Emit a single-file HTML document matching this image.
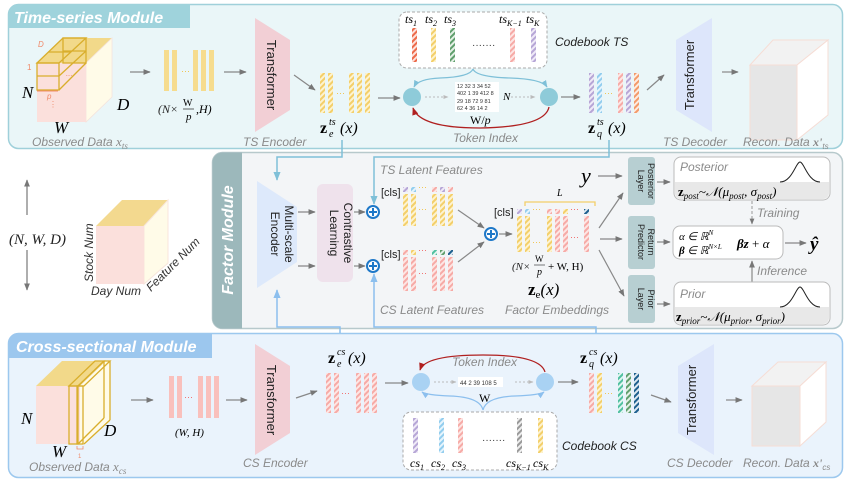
<!DOCTYPE html>
<html><head><meta charset="utf-8"><style>
html,body{margin:0;padding:0;background:#fff;}
svg{display:block;font-family:"Liberation Sans",sans-serif;}
.it{font-style:italic;fill:#8a8a8a;font-size:12px;}
.m{font-family:"Liberation Serif",serif;font-style:italic;}
</style></head><body>
<svg width="847" height="482" viewBox="0 0 847 482" xmlns="http://www.w3.org/2000/svg">
<defs>
<marker id="ag" viewBox="0 0 10 10" refX="9" refY="5" markerWidth="6" markerHeight="6" orient="auto"><path d="M0,1 L10,5 L0,9 z" fill="#777"/></marker>
<marker id="ab" viewBox="0 0 10 10" refX="9" refY="5" markerWidth="6" markerHeight="6" orient="auto"><path d="M0,1 L10,5 L0,9 z" fill="#7fc0d8"/></marker>
<marker id="ab2" viewBox="0 0 10 10" refX="9" refY="5" markerWidth="6" markerHeight="6" orient="auto"><path d="M0,1 L10,5 L0,9 z" fill="#8cbfee"/></marker>
<marker id="ar" viewBox="0 0 10 10" refX="9" refY="5" markerWidth="6" markerHeight="6" orient="auto"><path d="M0,1 L10,5 L0,9 z" fill="#b02020"/></marker>
<marker id="al" viewBox="0 0 10 10" refX="9" refY="5" markerWidth="5" markerHeight="5" orient="auto"><path d="M0,1 L10,5 L0,9 z" fill="#bbb"/></marker>
<pattern id="hY" width="4" height="4" patternUnits="userSpaceOnUse" patternTransform="rotate(45)"><rect width="4" height="4" fill="#fdf3d0"/><rect width="2" height="4" fill="#f3cf6a"/></pattern>
<pattern id="hP" width="4" height="4" patternUnits="userSpaceOnUse" patternTransform="rotate(45)"><rect width="4" height="4" fill="#fde6e4"/><rect width="2" height="4" fill="#f6aaa6"/></pattern>
<pattern id="hV" width="4" height="4" patternUnits="userSpaceOnUse" patternTransform="rotate(45)"><rect width="4" height="4" fill="#efeaf7"/><rect width="2" height="4" fill="#b6a6d6"/></pattern>
<pattern id="hB" width="4" height="4" patternUnits="userSpaceOnUse" patternTransform="rotate(45)"><rect width="4" height="4" fill="#e6f4fc"/><rect width="2" height="4" fill="#92cdee"/></pattern>
<pattern id="hG" width="4" height="4" patternUnits="userSpaceOnUse" patternTransform="rotate(45)"><rect width="4" height="4" fill="#e4f0e6"/><rect width="2" height="4" fill="#5f9e6c"/></pattern>
<pattern id="hT" width="4" height="4" patternUnits="userSpaceOnUse" patternTransform="rotate(45)"><rect width="4" height="4" fill="#e0f5ef"/><rect width="2" height="4" fill="#4fbfa0"/></pattern>
<pattern id="hD" width="4" height="4" patternUnits="userSpaceOnUse" patternTransform="rotate(45)"><rect width="4" height="4" fill="#dde8f0"/><rect width="2" height="4" fill="#1d5f8e"/></pattern>
<pattern id="hO" width="4" height="4" patternUnits="userSpaceOnUse" patternTransform="rotate(45)"><rect width="4" height="4" fill="#fdece2"/><rect width="2" height="4" fill="#f39a6a"/></pattern>
<pattern id="hR" width="4" height="4" patternUnits="userSpaceOnUse" patternTransform="rotate(45)"><rect width="4" height="4" fill="#fde2dc"/><rect width="2" height="4" fill="#ec6a4a"/></pattern>
<pattern id="hA" width="4" height="4" patternUnits="userSpaceOnUse" patternTransform="rotate(45)"><rect width="4" height="4" fill="#eee"/><rect width="2" height="4" fill="#999"/></pattern>
</defs>

<!-- ===== TS module ===== -->
<rect x="8.5" y="4.5" width="834" height="144" rx="10" fill="#eaf6f8" stroke="#9fd0da" stroke-width="1.5"/>
<path d="M8.5,14.5 a10,10 0 0 1 10,-10 H190 V28 H8.5 z" fill="#9fd3dc"/>
<text x="14" y="23" font-size="16" font-weight="bold" font-style="italic" fill="#fff">Time-series Module</text>

<polygon points="37,63 63,38 112,38 86,63" fill="#f2d98a"/>
<polygon points="86,63 112,38 112,97 86,122" fill="#fffbe8" stroke="#f5e3dc" stroke-width="0.8"/>
<rect x="37" y="63" width="49" height="59" fill="#fbe0dc"/>
<g fill="none" stroke="#d9ae2c" stroke-width="1.3">
<rect x="37" y="63" width="22" height="27"/><line x1="37" y1="76" x2="59" y2="76"/>
<polygon points="37,63 63,38 86,38 59,63"/><line x1="48" y1="52" x2="71" y2="52"/>
<rect x="63" y="38" width="23" height="25"/><line x1="63" y1="51" x2="86" y2="51"/>
<line x1="59" y1="90" x2="86" y2="63"/><line x1="59" y1="76" x2="86" y2="51"/>
</g>
<g fill="#f08a6a" font-size="8" font-style="italic"><text x="38" y="47">D</text><text x="27" y="70" font-style="normal">1</text><text x="47" y="99">p</text><text x="66" y="76">...</text></g>
<line x1="37" y1="91" x2="58" y2="91" stroke="#f08a6a"/>
<text x="49" y="107" fill="#f08a6a" font-size="8">⋮</text>
<text x="22" y="98" class="m" font-size="17">N</text>
<text x="117" y="110" class="m" font-size="17">D</text>
<text x="54" y="133" class="m" font-size="17">W</text>
<text x="32" y="146" class="it" font-size="12">Observed Data <tspan class="m" font-size="13">x</tspan><tspan class="m" font-size="9" dy="3">ts</tspan></text>

<line x1="130" y1="72" x2="150" y2="72" stroke="#888" stroke-width="1.2" marker-end="url(#ag)"/>
<g fill="#f6dc8e"><rect x="164" y="50" width="5" height="41"/><rect x="172" y="50" width="5" height="41"/><rect x="193" y="50" width="5" height="41"/><rect x="201" y="50" width="5" height="41"/><rect x="209" y="50" width="5" height="41"/></g>
<text x="181" y="74" fill="#f0c040" font-size="9">···</text>
<text x="158" y="113" class="m" font-size="12" fill="#222">(N×</text><text x="183" y="106" font-size="10" font-family="Liberation Serif">W</text><line x1="183" y1="109" x2="194" y2="109" stroke="#222" stroke-width="0.7"/><text x="186" y="120" class="m" font-size="11">p</text><text x="196" y="113" class="m" font-size="12">,H)</text>
<line x1="224" y1="72" x2="246" y2="72" stroke="#888" stroke-width="1.2" marker-end="url(#ag)"/>

<polygon points="255,18 290,40 290,110 255,132" fill="#f2cfd5"/>
<text transform="translate(267,75) rotate(90)" text-anchor="middle" font-size="13" fill="#222">Transformer</text>
<text x="243" y="146" class="it">TS Encoder</text>
<line x1="294" y1="75" x2="315" y2="90" stroke="#888" stroke-width="1.2" marker-end="url(#ag)"/>

<g><rect x="320" y="73" width="5" height="40" fill="url(#hY)"/><rect x="328" y="73" width="5" height="40" fill="url(#hY)"/><rect x="349" y="73" width="5" height="40" fill="url(#hY)"/><rect x="357" y="73" width="5" height="40" fill="url(#hY)"/><rect x="365" y="73" width="5" height="40" fill="url(#hY)"/></g>
<text x="336" y="96" fill="#f0c040" font-size="9">···</text>
<text x="320" y="133" font-family="Liberation Serif" font-size="16" font-weight="bold">z</text>
<text x="329" y="125" font-family="Liberation Serif" font-size="10" font-style="italic">ts</text>
<text x="329" y="137" font-family="Liberation Serif" font-size="10" font-style="italic">e</text>
<text x="340" y="133" font-family="Liberation Serif" font-size="16" font-style="italic">(x)</text>
<line x1="378" y1="98" x2="400" y2="98" stroke="#888" stroke-width="1.2" marker-end="url(#ag)"/>

<rect x="399" y="12" width="148" height="56" rx="8" fill="#fff" stroke="#aaa" stroke-dasharray="3,2"/>
<g font-family="Liberation Serif" font-style="italic" font-size="12"><text x="405" y="23">ts<tspan font-size="8" dy="3">1</tspan></text><text x="425" y="23">ts<tspan font-size="8" dy="3">2</tspan></text><text x="444" y="23">ts<tspan font-size="8" dy="3">3</tspan></text><text x="499" y="23">ts<tspan font-size="8" dy="3">K−1</tspan></text><text x="526" y="23">ts<tspan font-size="8" dy="3">K</tspan></text></g>
<rect x="412" y="28" width="5" height="34" fill="url(#hR)"/><rect x="431" y="28" width="5" height="34" fill="url(#hY)"/><rect x="450" y="28" width="5" height="34" fill="url(#hG)"/><rect x="510" y="28" width="5" height="34" fill="url(#hP)"/><rect x="531" y="28" width="5" height="34" fill="url(#hV)"/>
<text x="472" y="48" font-size="10" fill="#333">·······</text>
<text x="555" y="46" font-size="12" font-style="italic" fill="#222">Codebook TS</text>
<path d="M473,69 Q470,77 440,78 Q418,79 414,87" fill="none" stroke="#7fc0d8" stroke-width="1.2" marker-end="url(#ab)"/>
<path d="M473,69 Q476,77 510,78 Q542,79 547,87" fill="none" stroke="#7fc0d8" stroke-width="1.2" marker-end="url(#ab)"/>
<circle cx="412" cy="97" r="9" fill="#8ecbd9"/><circle cx="549" cy="97" r="9" fill="#8ecbd9"/>
<line x1="425" y1="97" x2="448" y2="97" stroke="#bbb" stroke-dasharray="2,2" marker-end="url(#al)"/>
<line x1="511" y1="97" x2="535" y2="97" stroke="#bbb" stroke-dasharray="2,2" marker-end="url(#al)"/>
<rect x="455" y="82" width="44" height="30" fill="#fff"/>
<g font-size="5.5" fill="#333"><text x="457" y="88">12 32 3 34 52</text><text x="457" y="95">402 1 39 412 8</text><text x="457" y="103">29 18 72 9 81</text><text x="457" y="110">62 4 36 14 2</text></g>
<text x="503" y="100" class="m" font-size="11">N</text>
<path d="M549,107 Q545,127 480,128 Q420,128 413,108" fill="none" stroke="#b02020" stroke-width="1.3" marker-end="url(#ar)"/>
<text x="470" y="124" font-family="Liberation Serif" font-size="12">W/<tspan font-style="italic">p</tspan></text>
<text x="453" y="142" class="it">Token Index</text>
<line x1="561" y1="97" x2="580" y2="97" stroke="#888" stroke-width="1.2" marker-end="url(#ag)"/>

<g><rect x="589" y="73" width="5" height="40" fill="url(#hV)"/><rect x="597" y="73" width="5" height="40" fill="url(#hB)"/><rect x="618" y="73" width="5" height="40" fill="url(#hP)"/><rect x="626" y="73" width="5" height="40" fill="url(#hV)"/><rect x="634" y="73" width="5" height="40" fill="url(#hO)"/></g>
<text x="604" y="96" fill="#f0c040" font-size="9">···</text>
<text x="588" y="133" font-family="Liberation Serif" font-size="16" font-weight="bold">z</text>
<text x="597" y="125" font-family="Liberation Serif" font-size="10" font-style="italic">ts</text>
<text x="597" y="137" font-family="Liberation Serif" font-size="10" font-style="italic">q</text>
<text x="608" y="133" font-family="Liberation Serif" font-size="16" font-style="italic">(x)</text>
<line x1="647" y1="90" x2="664" y2="75" stroke="#888" stroke-width="1.2" marker-end="url(#ag)"/>
<polygon points="676,40 712,18 712,132 676,110" fill="#dde6fb"/>
<text transform="translate(694,75) rotate(-90)" text-anchor="middle" font-size="13" fill="#222">Transformer</text>
<text x="663" y="146" class="it">TS Decoder</text>
<line x1="722" y1="72" x2="738" y2="72" stroke="#888" stroke-width="1.2" marker-end="url(#ag)"/>
<polygon points="750,65 773,40 828,40 797,65" fill="#f2f2f2" stroke="#f6ddd5"/>
<polygon points="797,65 828,40 828,115 797,140" fill="#fff" stroke="#f6ddd5"/>
<rect x="750" y="65" width="47" height="75" fill="#e6e6e6" stroke="#f6ddd5"/>
<text x="743" y="146" class="it">Recon. Data <tspan class="m" font-weight="bold" font-size="12">x'</tspan><tspan font-size="8" dy="3">ts</tspan></text>

<!-- ===== Factor module ===== -->
<rect x="212.5" y="152.5" width="630" height="176" rx="10" fill="#f3f5f7" stroke="#b7c9cc" stroke-width="1.5"/>
<path d="M212.5,162.5 a10,10 0 0 1 10,-10 H242 V328.5 H222.5 a10,10 0 0 1 -10,-10 z" fill="#9cb8bb"/>
<text transform="translate(233,240) rotate(-90)" text-anchor="middle" font-size="16" font-weight="bold" font-style="italic" fill="#fff">Factor Module</text>

<line x1="27" y1="215" x2="27" y2="180" stroke="#777" stroke-width="1.2" marker-end="url(#ag)"/>
<line x1="27" y1="250" x2="27" y2="290" stroke="#777" stroke-width="1.2" marker-end="url(#ag)"/>
<text x="9" y="244" class="m" font-size="15" font-style="normal" fill="#222">(<tspan font-style="italic">N</tspan>, <tspan font-style="italic">W</tspan>, <tspan font-style="italic">D</tspan>)</text>
<polygon points="96,226 122,200 168,200 144,226" fill="#f3d98f"/>
<polygon points="144,226 168,200 168,263 144,284" fill="#fffbe8" stroke="#f8e6dc"/>
<rect x="96" y="226" width="48" height="58" fill="#fbe0dc"/>
<text transform="translate(93,282) rotate(-90)" font-size="12" font-style="italic" fill="#333">Stock Num</text>
<text x="91" y="295" font-size="12" font-style="italic" fill="#333">Day Num</text>
<text transform="translate(151,292) rotate(-45)" font-size="12" font-style="italic" fill="#333">Feature Num</text>

<polygon points="257,181 297,207 297,262 257,288" fill="#dde9fb"/>
<text transform="translate(285,234) rotate(90)" text-anchor="middle" font-size="12" fill="#222">Multi-scale</text>
<text transform="translate(271,234) rotate(90)" text-anchor="middle" font-size="12" fill="#222">Encoder</text>
<line x1="298" y1="212" x2="315" y2="212" stroke="#888" stroke-width="1.2" marker-end="url(#ag)"/>
<line x1="298" y1="266" x2="315" y2="266" stroke="#888" stroke-width="1.2" marker-end="url(#ag)"/>
<rect x="317" y="184" width="36" height="98" rx="6" fill="#efe2ec"/>
<text transform="translate(344,233) rotate(90)" text-anchor="middle" font-size="12" fill="#222">Contrastive</text>
<text transform="translate(330,233) rotate(90)" text-anchor="middle" font-size="12" fill="#222">Learning</text>
<line x1="354" y1="212" x2="365" y2="212" stroke="#888" stroke-width="1.2" marker-end="url(#ag)"/>
<line x1="354" y1="266" x2="365" y2="266" stroke="#888" stroke-width="1.2" marker-end="url(#ag)"/>
<g fill="#fff" stroke="#1e78c8" stroke-width="2"><circle cx="373" cy="212" r="6"/><circle cx="373" cy="266" r="6"/><circle cx="491" cy="234" r="6"/></g>
<g stroke="#1e78c8" stroke-width="2"><path d="M369,212h8M373,208v8M369,266h8M373,262v8M487,234h8M491,230v8"/></g>

<text x="380" y="174" class="it">TS Latent Features</text>
<text x="381" y="196" font-size="11" fill="#222">[cls]</text>
<rect x="403" y="187" width="5" height="5" fill="url(#hV)"/><rect x="411" y="187" width="5" height="5" fill="url(#hB)"/><rect x="432" y="187" width="5" height="5" fill="url(#hP)"/><rect x="440" y="187" width="5" height="5" fill="url(#hV)"/><rect x="448" y="187" width="5" height="5" fill="url(#hP)"/>
<rect x="403" y="194" width="5" height="32" fill="url(#hY)"/><rect x="411" y="194" width="5" height="32" fill="url(#hY)"/><rect x="432" y="194" width="5" height="32" fill="url(#hY)"/><rect x="440" y="194" width="5" height="32" fill="url(#hY)"/><rect x="448" y="194" width="5" height="32" fill="url(#hY)"/>
<text x="418" y="190" fill="#f0c040" font-size="9">···</text><text x="418" y="212" fill="#f0c040" font-size="9">···</text>

<text x="381" y="258" font-size="11" fill="#222">[cls]</text>
<rect x="403" y="250" width="5" height="5" fill="url(#hP)"/><rect x="411" y="250" width="5" height="5" fill="url(#hY)"/><rect x="432" y="250" width="5" height="5" fill="url(#hT)"/><rect x="440" y="250" width="5" height="5" fill="url(#hG)"/><rect x="448" y="250" width="5" height="5" fill="url(#hD)"/>
<rect x="403" y="257" width="5" height="34" fill="url(#hP)"/><rect x="411" y="257" width="5" height="34" fill="url(#hP)"/><rect x="432" y="257" width="5" height="34" fill="url(#hP)"/><rect x="440" y="257" width="5" height="34" fill="url(#hP)"/><rect x="448" y="257" width="5" height="34" fill="url(#hP)"/>
<text x="418" y="253" fill="#f06060" font-size="9">···</text><text x="418" y="276" fill="#f06060" font-size="9">···</text>
<text x="380" y="314" class="it">CS Latent Features</text>

<line x1="458" y1="210" x2="484" y2="228" stroke="#888" stroke-width="1.2" marker-end="url(#ag)"/>
<line x1="458" y1="262" x2="484" y2="242" stroke="#888" stroke-width="1.2" marker-end="url(#ag)"/>
<line x1="499" y1="234" x2="512" y2="234" stroke="#888" stroke-width="1.2" marker-end="url(#ag)"/>

<path d="M525,206 V202 H595 V206" fill="none" stroke="#f3cf6a" stroke-width="1.3"/>
<text x="557" y="196" class="m" font-size="10">L</text>
<text x="494" y="216" font-size="11" fill="#222">[cls]</text>
<g>
<rect x="517" y="209" width="5" height="5" fill="url(#hV)"/><rect x="525" y="209" width="5" height="5" fill="url(#hB)"/><rect x="547" y="209" width="5" height="5" fill="url(#hP)"/><rect x="555" y="209" width="5" height="5" fill="url(#hP)"/><rect x="563" y="209" width="5" height="5" fill="url(#hY)"/><rect x="584" y="209" width="5" height="5" fill="url(#hD)"/>
<rect x="517" y="216" width="5" height="36" fill="url(#hY)"/><rect x="525" y="216" width="5" height="36" fill="url(#hY)"/><rect x="547" y="216" width="5" height="36" fill="url(#hY)"/><rect x="555" y="216" width="5" height="36" fill="url(#hP)"/><rect x="563" y="216" width="5" height="36" fill="url(#hP)"/><rect x="584" y="216" width="5" height="36" fill="url(#hP)"/>
</g>
<text x="532" y="212" fill="#f0c040" font-size="9">···</text><text x="532" y="245" fill="#f0c040" font-size="9">···</text>
<text x="570" y="212" fill="#f06060" font-size="9">···</text><text x="570" y="240" fill="#f06060" font-size="9">···</text>
<text x="512" y="270" class="m" font-size="11" fill="#222">(N×</text><text x="535" y="262" font-size="9" font-family="Liberation Serif">W</text><line x1="534" y1="265" x2="545" y2="265" stroke="#222" stroke-width="0.6"/><text x="537" y="275" class="m" font-size="10">p</text><text x="548" y="270" font-family="Liberation Serif" font-size="11">+ W, H)</text>
<text x="528" y="295" font-family="Liberation Serif" font-size="17"><tspan font-weight="bold">z</tspan><tspan font-size="11" dy="3">e</tspan><tspan dy="-3" font-style="italic">(x)</tspan></text>
<text x="505" y="314" class="it">Factor Embeddings</text>

<text x="581" y="183" class="m" font-size="22">y</text>
<line x1="598" y1="176" x2="622" y2="176" stroke="#888" stroke-width="1.2" marker-end="url(#ag)"/>
<line x1="599" y1="228" x2="623" y2="193" stroke="#888" stroke-width="1.2" marker-end="url(#ag)"/>
<line x1="600" y1="239" x2="622" y2="239" stroke="#888" stroke-width="1.2" marker-end="url(#ag)"/>
<line x1="599" y1="250" x2="624" y2="296" stroke="#888" stroke-width="1.2" marker-end="url(#ag)"/>

<rect x="628" y="157" width="27" height="48" rx="3" fill="#b7cfd2"/>
<text transform="translate(648,181) rotate(90)" text-anchor="middle" font-size="9" fill="#222">Posterior</text>
<text transform="translate(638,181) rotate(90)" text-anchor="middle" font-size="9" fill="#222">Layer</text>
<rect x="628" y="216" width="27" height="53" rx="3" fill="#b7cfd2"/>
<text transform="translate(648,242) rotate(90)" text-anchor="middle" font-size="9" fill="#222">Return</text>
<text transform="translate(638,242) rotate(90)" text-anchor="middle" font-size="9" fill="#222">Predictor</text>
<rect x="628" y="275" width="27" height="48" rx="3" fill="#b7cfd2"/>
<text transform="translate(648,299) rotate(90)" text-anchor="middle" font-size="9" fill="#222">Prior</text>
<text transform="translate(638,299) rotate(90)" text-anchor="middle" font-size="9" fill="#222">Layer</text>
<line x1="657" y1="182" x2="670" y2="182" stroke="#888" stroke-width="1.2" marker-end="url(#ag)"/>
<line x1="657" y1="242" x2="670" y2="242" stroke="#888" stroke-width="1.2" marker-end="url(#ag)"/>
<line x1="657" y1="304" x2="670" y2="304" stroke="#888" stroke-width="1.2" marker-end="url(#ag)"/>

<rect x="674" y="157" width="156" height="43" rx="7" fill="#fff" stroke="#bbb"/>
<path d="M675,182 H829 V193 a6,6 0 0 1 -6,6 H681 a6,6 0 0 1 -6,-6 z" fill="#e8e8e8"/>
<text x="680" y="171" class="it" font-size="12">Posterior</text>
<path d="M780,182 C792,182 796,162 800,162 C804,162 808,182 820,182" fill="none" stroke="#222"/>
<text x="678" y="196" font-family="Liberation Serif" font-size="13" font-style="italic"><tspan font-weight="bold" font-style="normal">z</tspan><tspan font-size="9" dy="3">post</tspan><tspan dy="-3">~𝒩(μ</tspan><tspan font-size="9" dy="3">post</tspan><tspan dy="-3">, σ</tspan><tspan font-size="9" dy="3">post</tspan><tspan dy="-3">)</tspan></text>
<line x1="752" y1="201" x2="752" y2="224" stroke="#999" stroke-dasharray="3,2" marker-end="url(#ag)"/>
<text x="757" y="217" class="it" font-size="11">Training</text>

<rect x="673" y="226" width="110" height="33" rx="7" fill="#fff" stroke="#bbb"/>
<text x="679" y="240" font-family="Liberation Serif" font-size="11" font-style="italic">α ∈ ℝ<tspan font-size="7" dy="-5">N</tspan></text>
<text x="679" y="254" font-family="Liberation Serif" font-size="11" font-style="italic" font-weight="bold">β<tspan font-weight="normal"> ∈ ℝ</tspan><tspan font-size="7" dy="-5" font-weight="normal">N×L</tspan></text>
<text x="737" y="248" font-family="Liberation Serif" font-size="13" font-weight="bold" font-style="italic">βz<tspan font-weight="normal" font-style="normal"> + </tspan><tspan font-weight="normal">α</tspan></text>
<line x1="785" y1="243" x2="806" y2="243" stroke="#888" stroke-width="1.2" marker-end="url(#ag)"/>
<text x="810" y="250" class="m" font-size="19" font-weight="bold">ŷ</text>
<line x1="752" y1="282" x2="752" y2="261" stroke="#888" stroke-width="1.2" marker-end="url(#ag)"/>
<text x="757" y="275" class="it" font-size="11">Inference</text>

<rect x="674" y="282" width="156" height="43" rx="7" fill="#fff" stroke="#bbb"/>
<path d="M675,307 H829 V318 a6,6 0 0 1 -6,6 H681 a6,6 0 0 1 -6,-6 z" fill="#e8e8e8"/>
<text x="680" y="298" class="it" font-size="12">Prior</text>
<path d="M780,307 C792,307 796,287 800,287 C804,287 808,307 820,307" fill="none" stroke="#222"/>
<text x="676" y="321" font-family="Liberation Serif" font-size="13" font-style="italic"><tspan font-weight="bold" font-style="normal">z</tspan><tspan font-size="9" dy="3">prior</tspan><tspan dy="-3">~𝒩(μ</tspan><tspan font-size="9" dy="3">prior</tspan><tspan dy="-3">, σ</tspan><tspan font-size="9" dy="3">prior</tspan><tspan dy="-3">)</tspan></text>

<!-- ===== CS module ===== -->
<rect x="8.5" y="333.5" width="834" height="144" rx="10" fill="#eaf3fc" stroke="#9cc8ee" stroke-width="1.5"/>
<path d="M8.5,343.5 a10,10 0 0 1 10,-10 H212 V358 H8.5 z" fill="#9cc7ee"/>
<text x="16" y="352" font-size="16" font-weight="bold" font-style="italic" fill="#fff">Cross-sectional Module</text>

<g fill="none" stroke="#7fc0d8" stroke-width="1.5">
<path d="M342,140 V157 H277 V180" marker-end="url(#ab)"/>
<path d="M609,140 V157 H374 V204" marker-end="url(#ab)"/>
</g>
<g fill="none" stroke="#8cbfee" stroke-width="1.5">
<path d="M340,333 V327 H277 V290" marker-end="url(#ab2)"/>
<path d="M596,333 V327 H374 V274" marker-end="url(#ab2)"/>
</g>

<polygon points="36,386 62,361 106,361 80,386" fill="#f2d98a"/>
<rect x="36" y="386" width="44" height="58" fill="#fbe0dc"/>
<polygon points="80,386 106,361 110,361 110,420 84,444 80,444" fill="#fffbe8"/>
<g fill="none" stroke="#d9ae2c" stroke-width="1.3">
<rect x="69" y="386" width="9" height="58"/><rect x="77" y="386" width="6" height="58"/>
<polygon points="69,386 95,361 104,361 78,386"/><polygon points="78,386 104,361 110,361 84,386"/>
<line x1="104" y1="361" x2="104" y2="418"/><line x1="110" y1="361" x2="110" y2="420"/>
<line x1="84" y1="444" x2="110" y2="420"/><line x1="78" y1="444" x2="104" y2="418"/>
</g>
<path d="M77,446v3h6v-3" fill="none" stroke="#f08a6a" stroke-width="0.8"/>
<text x="78" y="458" fill="#f08a6a" font-size="6">1</text>
<text x="21" y="424" class="m" font-size="17">N</text>
<text x="104" y="436" class="m" font-size="17">D</text>
<text x="52" y="457" class="m" font-size="17">W</text>
<text x="29" y="471" class="it">Observed Data <tspan class="m" font-size="13">x</tspan><tspan class="m" font-size="9" dy="3">cs</tspan></text>

<line x1="131" y1="400" x2="153" y2="400" stroke="#888" stroke-width="1.2" marker-end="url(#ag)"/>
<g fill="#f9c0bc"><rect x="169" y="376" width="5" height="42"/><rect x="177" y="376" width="5" height="42"/><rect x="198" y="376" width="5" height="42"/><rect x="206" y="376" width="5" height="42"/><rect x="214" y="376" width="5" height="42"/></g>
<text x="184" y="400" fill="#f06060" font-size="9">···</text>
<text x="175" y="436" class="m" font-size="11">(W, H)</text>
<line x1="226" y1="400" x2="247" y2="400" stroke="#888" stroke-width="1.2" marker-end="url(#ag)"/>
<polygon points="255,344 290,366 290,433 255,455" fill="#f2cfd5"/>
<text transform="translate(267,400) rotate(90)" text-anchor="middle" font-size="13" fill="#222">Transformer</text>
<text x="243" y="467" class="it">CS Encoder</text>
<line x1="296" y1="398" x2="317" y2="391" stroke="#888" stroke-width="1.2" marker-end="url(#ag)"/>

<g><rect x="326" y="373" width="5" height="40" fill="url(#hP)"/><rect x="334" y="373" width="5" height="40" fill="url(#hP)"/><rect x="356" y="373" width="5" height="40" fill="url(#hP)"/><rect x="364" y="373" width="5" height="40" fill="url(#hP)"/><rect x="372" y="373" width="5" height="40" fill="url(#hP)"/></g>
<text x="341" y="396" fill="#f06060" font-size="9">···</text>
<text x="328" y="363" font-family="Liberation Serif" font-size="16" font-weight="bold">z</text>
<text x="337" y="355" font-family="Liberation Serif" font-size="10" font-style="italic">cs</text>
<text x="337" y="367" font-family="Liberation Serif" font-size="10" font-style="italic">e</text>
<text x="348" y="363" font-family="Liberation Serif" font-size="16" font-style="italic">(x)</text>
<line x1="385" y1="383" x2="408" y2="383" stroke="#888" stroke-width="1.2" marker-end="url(#ag)"/>

<circle cx="421" cy="382" r="9" fill="#a9d2f3"/><circle cx="545" cy="382" r="9" fill="#a9d2f3"/>
<path d="M545,372 Q540,355 483,355 Q425,355 420,370" fill="none" stroke="#b02020" stroke-width="1.3" marker-end="url(#ar)"/>
<text x="452" y="366" class="it">Token Index</text>
<line x1="434" y1="382" x2="456" y2="382" stroke="#bbb" stroke-dasharray="2,2" marker-end="url(#al)"/>
<rect x="458" y="377" width="45" height="10" fill="#fff"/>
<text x="460" y="385" font-size="6" fill="#333">44 2 39 108 5</text>
<line x1="515" y1="382" x2="533" y2="382" stroke="#bbb" stroke-dasharray="2,2" marker-end="url(#al)"/>
<text x="479" y="402" font-family="Liberation Serif" font-size="12">W</text>
<path d="M483,410 Q480,397 450,396 Q426,395 422,392" fill="none" stroke="#8cbfee" stroke-width="1.2" marker-end="url(#ab2)"/>
<path d="M483,410 Q486,397 515,396 Q540,395 544,392" fill="none" stroke="#8cbfee" stroke-width="1.2" marker-end="url(#ab2)"/>
<rect x="403" y="412" width="154" height="58" rx="8" fill="#fff" stroke="#aaa" stroke-dasharray="3,2"/>
<rect x="413" y="418" width="5" height="35" fill="url(#hV)"/><rect x="439" y="418" width="5" height="35" fill="url(#hB)"/><rect x="458" y="418" width="5" height="35" fill="url(#hP)"/><rect x="517" y="418" width="5" height="35" fill="url(#hA)"/><rect x="538" y="418" width="5" height="35" fill="url(#hY)"/>
<text x="482" y="443" font-size="10" fill="#333">·······</text>
<g font-family="Liberation Serif" font-style="italic" font-size="12"><text x="410" y="467">cs<tspan font-size="8" dy="3">1</tspan></text><text x="431" y="467">cs<tspan font-size="8" dy="3">2</tspan></text><text x="452" y="467">cs<tspan font-size="8" dy="3">3</tspan></text><text x="506" y="467">cs<tspan font-size="8" dy="3">K−1</tspan></text><text x="533" y="467">cs<tspan font-size="8" dy="3">K</tspan></text></g>
<text x="562" y="450" font-size="12" font-style="italic" fill="#222">Codebook CS</text>
<line x1="558" y1="382" x2="578" y2="382" stroke="#888" stroke-width="1.2" marker-end="url(#ag)"/>

<g><rect x="589" y="373" width="5" height="40" fill="url(#hP)"/><rect x="597" y="373" width="5" height="40" fill="url(#hY)"/><rect x="618" y="373" width="5" height="40" fill="url(#hT)"/><rect x="626" y="373" width="5" height="40" fill="url(#hG)"/><rect x="634" y="373" width="5" height="40" fill="url(#hD)"/></g>
<text x="604" y="396" fill="#f0c040" font-size="9">···</text>
<text x="580" y="363" font-family="Liberation Serif" font-size="16" font-weight="bold">z</text>
<text x="589" y="355" font-family="Liberation Serif" font-size="10" font-style="italic">cs</text>
<text x="589" y="367" font-family="Liberation Serif" font-size="10" font-style="italic">q</text>
<text x="600" y="363" font-family="Liberation Serif" font-size="16" font-style="italic">(x)</text>
<line x1="651" y1="395" x2="671" y2="402" stroke="#888" stroke-width="1.2" marker-end="url(#ag)"/>
<polygon points="678,366 714,344 714,455 678,433" fill="#dde6fb"/>
<text transform="translate(696,400) rotate(-90)" text-anchor="middle" font-size="13" fill="#222">Transformer</text>
<text x="667" y="467" class="it">CS Decoder</text>
<line x1="726" y1="400" x2="742" y2="400" stroke="#888" stroke-width="1.2" marker-end="url(#ag)"/>
<polygon points="752,386 778,362 826,362 800,386" fill="#f2f2f2" stroke="#f6ddd5"/>
<polygon points="800,386 826,362 826,422 800,446" fill="#fff" stroke="#f6ddd5"/>
<rect x="752" y="386" width="48" height="60" fill="#e6e6e6" stroke="#f6ddd5"/>
<text x="743" y="467" class="it">Recon. Data <tspan class="m" font-weight="bold" font-size="12">x'</tspan><tspan font-size="8" dy="3">cs</tspan></text>
</svg>
</body></html>
